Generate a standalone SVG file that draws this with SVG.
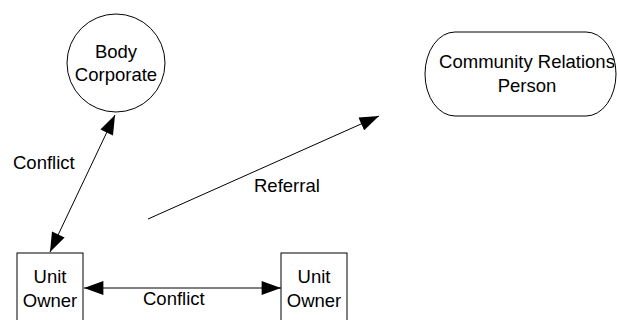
<svg xmlns="http://www.w3.org/2000/svg" width="617" height="320" viewBox="0 0 617 320">
<style>
.shape{fill:#fff;stroke:#000;stroke-width:1}
.t{font-family:"Liberation Sans",Arial,sans-serif;font-size:18.5px;fill:#000}
.c{text-anchor:middle}
.conn{stroke:#000;stroke-width:1;fill:none}
</style>
<defs>
<marker id="ah" markerUnits="userSpaceOnUse" markerWidth="20" markerHeight="14" refX="18" refY="6.5" orient="auto-start-reverse" viewBox="0 0 18 13">
<path d="M0,0 L18,6.5 L0,13 Z" fill="#000"/>
</marker>
</defs>
<rect width="617" height="320" fill="#fff"/>
<g id="connectors">
<line class="conn" x1="50" y1="252" x2="115" y2="115" marker-start="url(#ah)" marker-end="url(#ah)"/>
<line class="conn" x1="84" y1="288" x2="281" y2="288" marker-start="url(#ah)" marker-end="url(#ah)"/>
<line class="conn" x1="148" y1="219" x2="379" y2="116" marker-end="url(#ah)"/>
<text class="t" x="13" y="169">Conflict</text>
<text class="t" x="143" y="305">Conflict</text>
<text class="t" x="254" y="192">Referral</text>
</g>
<g id="body-corporate">
<circle class="shape" cx="116" cy="63" r="49"/>
<text class="t c" x="116" y="58">Body</text>
<text class="t c" x="116" y="81">Corporate</text>
</g>
<g id="community-relations">
<rect class="shape" x="425" y="32" width="191" height="84" rx="30" ry="42"/>
<text class="t c" x="527" y="68">Community Relations</text>
<text class="t c" x="527" y="92">Person</text>
</g>
<g id="unit-owner-1">
<rect class="shape" x="17" y="253" width="66" height="80"/>
<text class="t c" x="50" y="283">Unit</text>
<text class="t c" x="50" y="307">Owner</text>
</g>
<g id="unit-owner-2">
<rect class="shape" x="281" y="253" width="66" height="80"/>
<text class="t c" x="314" y="283">Unit</text>
<text class="t c" x="314" y="307">Owner</text>
</g>
</svg>
